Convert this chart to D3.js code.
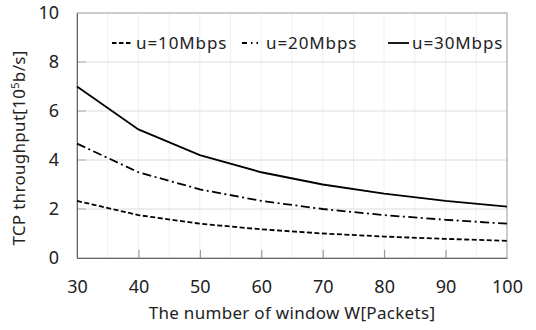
<!DOCTYPE html>
<html>
<head>
<meta charset="utf-8">
<script src="https://cdn.jsdelivr.net/npm/d3@7"></script>
<style>
  html, body { margin: 0; padding: 0; background: #fff; }
  svg { display: block; }
  text { font-family: "Noto Sans", "Open Sans", sans-serif; fill: #222; }
</style>
</head>
<body>
<svg id="chart" width="536" height="330"></svg>
<script>
const windowSizes = [30, 40, 50, 60, 70, 80, 90, 100];
const seriesNames = ["u=10Mbps", "u=20Mbps", "u=30Mbps"];
const u10 = [2.33, 1.75, 1.40, 1.17, 1.00, 0.875, 0.78, 0.70];
const u20 = [4.67, 3.50, 2.80, 2.33, 2.00, 1.75, 1.56, 1.40];
const u30 = [7.00, 5.25, 4.20, 3.50, 3.00, 2.625, 2.33, 2.10];
const xTicks = [30, 40, 50, 60, 70, 80, 90, 100];
const yTicks = [0, 2, 4, 6, 8, 10];

const seriesValues = [u10, u20, u30];
const dashes = ["5,2.5", "9,3.5,2,3.5", null];

const svg = d3.select("#chart");
const m = { left: 77, right: 507, top: 13, bottom: 258 };

const x = d3.scaleLinear().domain([30, 100]).range([m.left, m.right]);
const y = d3.scaleLinear().domain([0, 10]).range([m.bottom, m.top]);

// faint vertical grid every 5
const vgrid = d3.range(35, 100, 5);
svg.append("g").selectAll("line").data(vgrid).join("line")
  .attr("x1", d => x(d)).attr("x2", d => x(d))
  .attr("y1", m.top).attr("y2", m.bottom)
  .attr("stroke", "#efefef").attr("stroke-width", 1);

// horizontal grid
svg.append("g").selectAll("line").data(yTicks.filter(d => d > 0 && d < 10)).join("line")
  .attr("x1", m.left).attr("x2", m.right)
  .attr("y1", d => y(d)).attr("y2", d => y(d))
  .attr("stroke", "#dcdcdc").attr("stroke-width", 1);

// y inward tick marks
svg.append("g").selectAll("line").data(yTicks.filter(d => d > 0 && d < 10)).join("line")
  .attr("x1", m.left).attr("x2", m.left + 9)
  .attr("y1", d => y(d)).attr("y2", d => y(d))
  .attr("stroke", "#aaa").attr("stroke-width", 1);

// border
svg.append("rect")
  .attr("x", m.left).attr("y", m.top)
  .attr("width", m.right - m.left).attr("height", m.bottom - m.top)
  .attr("fill", "none").attr("stroke", "#999").attr("stroke-width", 1);

// axes
const xAxis = d3.axisBottom(x).tickValues(xTicks).tickSizeInner(-8).tickSizeOuter(0).tickPadding(22);
const gx = svg.append("g").attr("transform", `translate(0,${m.bottom})`).call(xAxis);
gx.select(".domain").attr("stroke", "#666");
gx.selectAll(".tick line").attr("stroke", "#888").filter(d => d === 30 || d === 100).remove();
gx.selectAll("text").attr("font-size", 18).attr("fill", "#222")
  .attr("font-family", '"Noto Sans", "Open Sans", sans-serif');

const yAxis = d3.axisLeft(y).tickValues(yTicks).tickSize(0).tickPadding(18);
const gy = svg.append("g").attr("transform", `translate(${m.left},0)`).call(yAxis);
gy.select(".domain").attr("stroke", "#666");
gy.selectAll("text").attr("font-size", 18).attr("fill", "#222")
  .attr("font-family", '"Noto Sans", "Open Sans", sans-serif');

// lines
const line = d3.line().x((d, i) => x(windowSizes[i])).y(d => y(d));
seriesValues.forEach((vals, k) => {
  svg.append("path").datum(vals)
    .attr("d", line)
    .attr("fill", "none").attr("stroke", "#000").attr("stroke-width", 1.8)
    .attr("stroke-dasharray", dashes[k]);
});

// legend
const legX = [112, 242, 388];
const leg = svg.append("g");
seriesNames.forEach((name, k) => {
  leg.append("line")
    .attr("x1", legX[k]).attr("x2", legX[k] + 21)
    .attr("y1", 43).attr("y2", 43)
    .attr("stroke", "#000").attr("stroke-width", 1.8)
    .attr("stroke-dasharray", k === 1 ? "5,4,1.5,4,1.5,10" : (dashes[k] ? "4.5,2.5" : null));
  leg.append("text")
    .attr("x", legX[k] + 24).attr("y", 49)
    .attr("font-size", 17).attr("letter-spacing", 0.9)
    .text(name);
});

// axis titles
svg.append("text")
  .attr("x", (m.left + m.right) / 2).attr("y", 319)
  .attr("text-anchor", "middle").attr("font-size", 17)
  .attr("letter-spacing", 0.3)
  .text("The number of window W[Packets]");

const yt = svg.append("text")
  .attr("transform", "translate(25,148) rotate(-90)")
  .attr("text-anchor", "middle").attr("font-size", 17)
  .attr("letter-spacing", 0.3);
yt.append("tspan").text("TCP throughput[10");
yt.append("tspan").attr("font-size", 11).attr("dy", -6).text("5");
yt.append("tspan").attr("dy", 6).text("b/s]");
</script>
</body>
</html>
